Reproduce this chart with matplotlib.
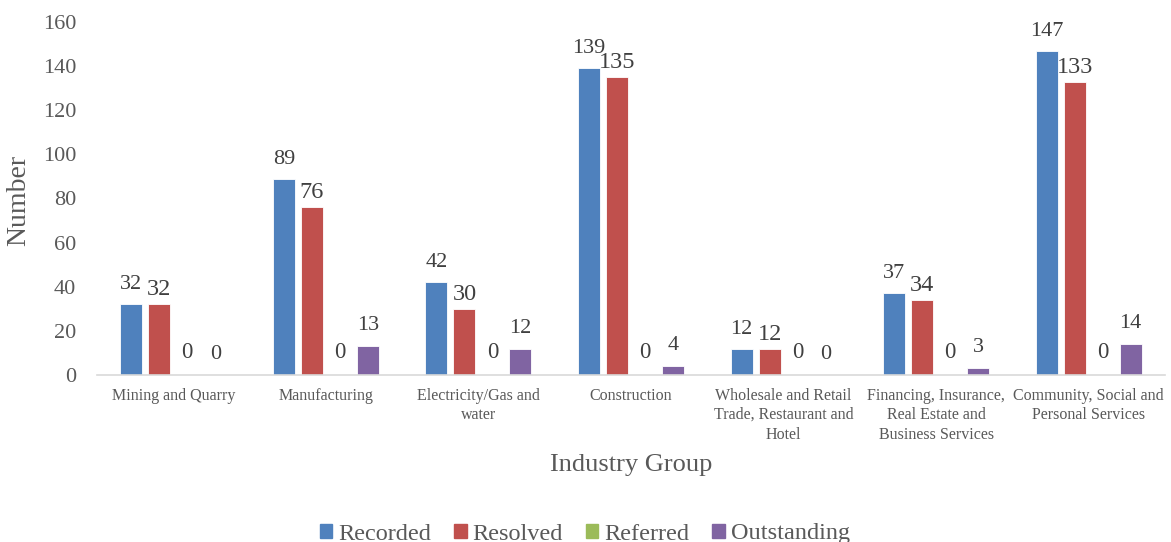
import numpy as np
import matplotlib.pyplot as plt
from matplotlib.patches import Patch

plt.rcParams['font.family'] = ['Liberation Serif', 'DejaVu Serif']

industries = ["Mining and Quarry", "Manufacturing", "Electricity/Gas and\nwater",
              "Construction", "Wholesale and Retail\nTrade, Restaurant and\nHotel",
              "Financing, Insurance,\nReal Estate and\nBusiness Services",
              "Community, Social and\nPersonal Services"]
recorded = [32, 89, 42, 139, 12, 37, 147]
resolved = [32, 76, 30, 135, 12, 34, 133]
referred = [0, 0, 0, 0, 0, 0, 0]
outstanding = [0, 13, 12, 4, 0, 3, 14]

# name, values, colour, label size, label gap (px)
series = [("Recorded", recorded, "#4F81BD", 16, 15),
          ("Resolved", resolved, "#C0504D", 17.5, 9),
          ("Referred", referred, "#9BBB59", 16.5, 17),
          ("Outstanding", outstanding, "#8064A2", 16, 16)]

fig = plt.figure(figsize=(11.71, 5.42), dpi=100)
ax = fig.add_axes([97/1171, 1 - 375/542, 1068/1171, 353/542])

x = np.arange(len(industries))
pitch = 0.1835
width = 0.144
for i, (name, vals, col, fs, off) in enumerate(series):
    pos = x + (i - 1.5) * pitch
    ax.bar(pos, vals, width, color=col, edgecolor='white', linewidth=0.6, label=name)
    for px, v in zip(pos, vals):
        ax.annotate(str(v), (px, v), xytext=(0, off), textcoords='offset pixels',
                    ha='center', va='baseline', fontsize=fs, color='#404040')

ax.set_xlim(-0.5, len(industries) - 0.5)
ax.set_ylim(0, 160)
ax.set_yticks(range(0, 161, 20))
ax.set_xticks(x)
ax.set_xticklabels(industries, fontsize=11.5, color='#595959', linespacing=1.3)
ax.tick_params(axis='x', length=0, pad=9)
ax.tick_params(axis='y', length=0, pad=15, labelsize=16, labelcolor='#595959')
for s in ['top', 'right', 'left']:
    ax.spines[s].set_visible(False)
ax.spines['bottom'].set_color('#D9D9D9')
ax.spines['bottom'].set_linewidth(1.2)

fig.text(19/1171, 1 - 200/542, "Number", rotation=90, ha='center', va='center',
         fontsize=20, color='#595959')
fig.text(631/1171, 1 - 465/542, "Industry Group", ha='center', va='center',
         fontsize=19, color='#595959')

handles = [Patch(color=c, label=n) for n, _, c, _, _ in series]
fig.legend(handles=handles, loc='center', bbox_to_anchor=(585/1171, 8/542), ncol=4,
           frameon=False, fontsize=17.5, handlelength=0.5, handleheight=0.5,
           handletextpad=0.25, columnspacing=0.95, labelcolor='#595959',
           borderpad=0)

fig.savefig("out.png", dpi=100)
